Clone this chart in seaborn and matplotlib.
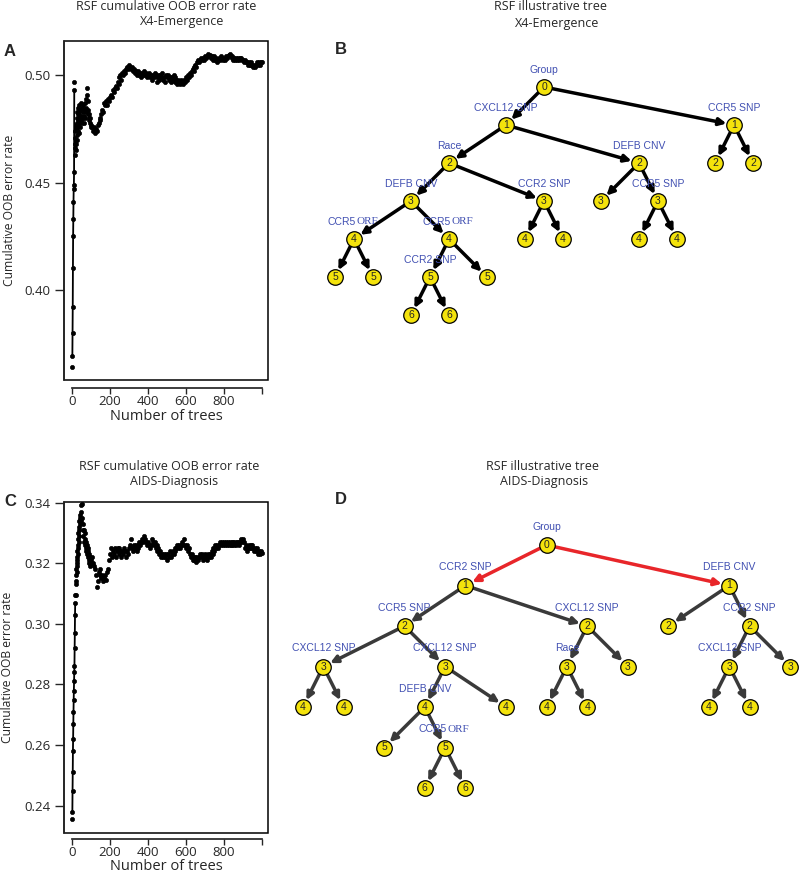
"""
RSF figure: cumulative OOB error rate curves and illustrative trees
for X4-Emergence and AIDS-Diagnosis.
"""

import numpy as np
import pandas as pd
import matplotlib
matplotlib.use("Agg")
import matplotlib.pyplot as plt
from matplotlib.patches import Rectangle
import seaborn as sns

# ── OOB error curves ────────────────────────────────────────
TREES = list(range(1, 41)) + list(range(42, 101, 2)) + list(range(105, 1001, 5))

OOB_X4 = [
    # trees 1-40
    0.364, 0.369, 0.380, 0.392, 0.410, 0.425, 0.433, 0.441, 0.447, 0.449,
    0.455, 0.493, 0.497, 0.463, 0.468, 0.471, 0.466, 0.474, 0.470, 0.477,
    0.468, 0.475, 0.465, 0.478, 0.472, 0.480, 0.470, 0.476, 0.483, 0.474,
    0.479, 0.485, 0.477, 0.482, 0.473, 0.480, 0.486, 0.478, 0.483, 0.481,
    # trees 42-100
    0.476, 0.484, 0.479, 0.487, 0.481, 0.485, 0.478, 0.483, 0.480, 0.486,
    0.481, 0.478, 0.484, 0.480, 0.487, 0.483, 0.489, 0.485, 0.491, 0.494,
    0.488, 0.484, 0.482, 0.480, 0.482, 0.479, 0.478, 0.480, 0.477, 0.476,
    # trees 105-1000
    0.476, 0.474, 0.476, 0.473, 0.475, 0.474, 0.477, 0.478, 0.480, 0.479,
    0.482, 0.484, 0.483, 0.487, 0.486, 0.488, 0.486, 0.489, 0.488, 0.490,
    0.491, 0.490, 0.493, 0.492, 0.494, 0.495, 0.494, 0.497, 0.496, 0.499,
    0.500, 0.498, 0.501, 0.500, 0.502, 0.501, 0.503, 0.504, 0.503, 0.505,
    0.504, 0.503, 0.504, 0.502, 0.503, 0.501, 0.502, 0.500, 0.502, 0.501,
    0.500, 0.501, 0.499, 0.501, 0.500, 0.502, 0.500, 0.501, 0.499, 0.500,
    0.501, 0.499, 0.500, 0.498, 0.500, 0.499, 0.501, 0.500, 0.497, 0.499,
    0.500, 0.498, 0.500, 0.499, 0.501, 0.498, 0.499, 0.497, 0.500, 0.499,
    0.500, 0.498, 0.499, 0.497, 0.499, 0.498, 0.500, 0.499, 0.497, 0.498,
    0.496, 0.498, 0.497, 0.496, 0.498, 0.4965, 0.496, 0.498, 0.497, 0.499,
    0.498, 0.500, 0.499, 0.501, 0.500, 0.502, 0.503, 0.502, 0.504, 0.505,
    0.504, 0.506, 0.507, 0.506, 0.507, 0.508, 0.507, 0.508, 0.507, 0.509,
    0.508, 0.509, 0.510, 0.509, 0.5095, 0.508, 0.509, 0.507, 0.508, 0.509,
    0.507, 0.508, 0.506, 0.507, 0.508, 0.507, 0.509, 0.508, 0.507, 0.508,
    0.507, 0.509, 0.508, 0.509, 0.5095, 0.510, 0.509, 0.508, 0.509, 0.507,
    0.508, 0.507, 0.508, 0.507, 0.508, 0.507, 0.508, 0.508, 0.507, 0.507,
    0.506, 0.507, 0.506, 0.506, 0.505, 0.506, 0.505, 0.506, 0.505, 0.505,
    0.504, 0.505, 0.504, 0.505, 0.506, 0.505, 0.506, 0.505, 0.506, 0.506,
]

OOB_AIDS = [
    # trees 1-40
    0.2355, 0.238, 0.245, 0.251, 0.258, 0.262, 0.267, 0.271, 0.275, 0.278,
    0.281, 0.284, 0.286, 0.292, 0.297, 0.303, 0.307, 0.3095, 0.313, 0.316,
    0.314, 0.318, 0.3095, 0.320, 0.317, 0.322, 0.319, 0.324, 0.321, 0.326,
    0.323, 0.328, 0.325, 0.330, 0.327, 0.332, 0.329, 0.334, 0.331, 0.335,
    # trees 42-100
    0.333, 0.336, 0.3392, 0.334, 0.337, 0.3395, 0.335, 0.331, 0.333, 0.329,
    0.331, 0.327, 0.330, 0.326, 0.328, 0.325, 0.327, 0.324, 0.326, 0.323,
    0.325, 0.322, 0.324, 0.321, 0.323, 0.320, 0.322, 0.319, 0.321, 0.320,
    # trees 105-1000
    0.322, 0.320, 0.319, 0.318, 0.316, 0.312, 0.314, 0.317, 0.316, 0.318,
    0.315, 0.316, 0.314, 0.315, 0.316, 0.3145, 0.317, 0.318, 0.321, 0.323,
    0.325, 0.322, 0.324, 0.323, 0.325, 0.322, 0.324, 0.325, 0.323, 0.325,
    0.324, 0.322, 0.324, 0.323, 0.325, 0.324, 0.322, 0.324, 0.323, 0.325,
    0.326, 0.328, 0.325, 0.324, 0.326, 0.325, 0.326, 0.324, 0.325, 0.326,
    0.327, 0.326, 0.327, 0.328, 0.327, 0.329, 0.328, 0.327, 0.326, 0.327,
    0.326, 0.325, 0.326, 0.328, 0.327, 0.326, 0.327, 0.325, 0.326, 0.324,
    0.325, 0.323, 0.324, 0.322, 0.323, 0.322, 0.323, 0.322, 0.323, 0.321,
    0.323, 0.322, 0.324, 0.322, 0.323, 0.324, 0.323, 0.325, 0.324, 0.325,
    0.326, 0.325, 0.326, 0.325, 0.326, 0.327, 0.326, 0.328, 0.326, 0.325,
    0.326, 0.324, 0.325, 0.323, 0.322, 0.323, 0.321, 0.322, 0.321, 0.322,
    0.3205, 0.322, 0.321, 0.322, 0.323, 0.322, 0.323, 0.321, 0.322, 0.323,
    0.322, 0.321, 0.323, 0.322, 0.323, 0.322, 0.324, 0.323, 0.325, 0.324,
    0.326, 0.325, 0.326, 0.325, 0.326, 0.327, 0.326, 0.327, 0.326, 0.327,
    0.326, 0.327, 0.326, 0.327, 0.326, 0.327, 0.326, 0.327, 0.326, 0.327,
    0.326, 0.327, 0.326, 0.327, 0.327, 0.326, 0.327, 0.328, 0.327, 0.328,
    0.327, 0.325, 0.326, 0.324, 0.325, 0.326, 0.325, 0.326, 0.325, 0.326,
    0.325, 0.324, 0.325, 0.324, 0.325, 0.323, 0.324, 0.323, 0.324, 0.3235,
]

# the first few trees are joined by a line (trees 2..N)
LINE_END_X4 = 12
LINE_END_AIDS = 17

X_TICKS = [0, 200, 400, 600, 800, 1000]
X_TICK_LABELS = ["0", "200", "400", "600", "800", ""]
Y_TICKS_X4 = [0.40, 0.45, 0.50]
Y_TICKS_AIDS = [0.24, 0.26, 0.28, 0.30, 0.32, 0.34]

# ── Illustrative trees (pre-order; parent index, split variable) ──
PARENT_X4 = [-1, 0, 1, 2, 3, 4, 4, 3, 7, 8, 8, 7, 2, 12, 12, 1, 15, 15, 17, 17, 0, 20, 20]
SPLIT_X4 = ["Group", "CXCL12 SNP", "Race", "DEFB CNV", "CCR5 ORF", "", "",
            "CCR5 ORF", "CCR2 SNP", "", "", "", "CCR2 SNP", "", "",
            "DEFB CNV", "", "CCR5 SNP", "", "", "CCR5 SNP", "", ""]
RED_X4 = []

PARENT_AIDS = [-1, 0, 1, 2, 3, 3, 2, 6, 7, 7, 9, 9, 6, 1, 13, 14, 14, 13,
               0, 18, 18, 20, 21, 21, 20]
SPLIT_AIDS = ["Group", "CCR2 SNP", "CCR5 SNP", "CXCL12 SNP", "", "",
              "CXCL12 SNP", "DEFB CNV", "", "CCR5 ORF", "", "", "",
              "CXCL12 SNP", "Race", "", "", "", "DEFB CNV", "", "CCR2 SNP",
              "CXCL12 SNP", "", "", ""]
RED_AIDS = [1, 18]

W, H = 800, 876
YELLOW = "#f4e30c"
BLUE = "#4150b2"
RED = "#e8262a"
UI_FONT = ["Open Sans", "DejaVu Sans"]
NODE_FONT = ["Liberation Sans", "DejaVu Sans"]
SERIF_FONT = ["Liberation Serif", "DejaVu Serif"]

sns.set_theme(style="ticks")
plt.rcParams["font.family"] = UI_FONT


def px_box(left, top, right, bottom):
    return [left / W, 1 - bottom / H, (right - left) / W, (bottom - top) / H]


def fig_text(fig, x, y, s, **kw):
    fig.text(x / W, 1 - y / H, s, ha="center", va="center", **kw)


def oob_panel(ax, oob, line_end, ylim, yticks, offset):
    df = pd.DataFrame({"trees": TREES, "oob": oob})
    early = df[(df.trees >= 2) & (df.trees <= line_end)]
    sns.lineplot(data=early, x="trees", y="oob", color="black", lw=1.3,
                 estimator=None, sort=False, ax=ax)
    sns.scatterplot(data=df, x="trees", y="oob", color="black", s=9,
                    edgecolor="black", linewidth=0.5, ax=ax)
    ax.set_xlim(-42, 1032)
    ax.set_ylim(*ylim)
    ax.set_xticks(X_TICKS, X_TICK_LABELS)
    ax.set_yticks(yticks, [f"{t:.2f}" for t in yticks])
    ax.tick_params(axis="x", length=4, width=1, pad=1, labelsize=9.5)
    ax.tick_params(axis="y", length=6.5, width=1, pad=3, labelsize=9.5)
    for side in ["top", "right"]:
        ax.spines[side].set_visible(False)
    ax.spines["bottom"].set_position(("outward", offset))
    ax.spines["bottom"].set_bounds(0, 1000)
    ax.spines["left"].set_linewidth(1.1)
    ax.add_patch(Rectangle((0, 0), 1, 1, transform=ax.transAxes, fill=False,
                           lw=1.1, ec="black", clip_on=False))
    ax.set_xlabel("Number of trees", fontsize=10.5, labelpad=0.5)
    ax.set_ylabel("Cumulative OOB error rate", fontsize=8.7)


def layout(parents):
    n = len(parents)
    children = [[] for _ in range(n)]
    depth = [0] * n
    for i, p in enumerate(parents):
        if p >= 0:
            children[p].append(i)
            depth[i] = depth[p] + 1

    def leaves(i):
        if not children[i]:
            return [i]
        return sum((leaves(c) for c in children[i]), [])

    xs = [0.0] * n
    k = 0
    for i in range(n):
        if not children[i]:
            xs[i] = 2.0 * k
            k += 1
    for i in range(n):
        if children[i]:
            xs[i] = float(np.mean([xs[j] for j in leaves(i)]))
    return xs, depth


def tree_panel(ax, parents, splits, red, edge_color, xlim, ylim):
    xs, depth = layout(parents)
    nodes = pd.DataFrame({"x": xs, "depth": depth, "split": splits})
    for i, p in enumerate(parents):
        if p < 0:
            continue
        col = RED if i in red else edge_color
        ax.annotate("", xy=(xs[i], depth[i]), xytext=(xs[p], depth[p]),
                    zorder=2,
                    arrowprops=dict(arrowstyle="-|>,head_length=0.6,head_width=0.3",
                                    color=col, lw=2.5, shrinkA=5.5, shrinkB=5.5,
                                    mutation_scale=7))
    sns.scatterplot(data=nodes, x="x", y="depth", s=125, color=YELLOW,
                    edgecolor="black", linewidth=0.9, ax=ax, zorder=3,
                    legend=False)
    for r in nodes.itertuples():
        ax.text(r.x, r.depth, str(r.depth), ha="center", va="center",
                fontsize=7.5, family=NODE_FONT, zorder=4)
        if not r.split:
            continue
        ly = r.depth - 0.48
        if r.split.endswith(" ORF"):
            ax.annotate(r.split[:-4], (r.x, ly), xytext=(1, 0),
                        textcoords="offset points", ha="right",
                        va="center_baseline", fontsize=7.5, color=BLUE,
                        family=NODE_FONT)
            ax.annotate("ORF", (r.x, ly), xytext=(2, 0),
                        textcoords="offset points", ha="left",
                        va="center_baseline", fontsize=8, color=BLUE,
                        family=SERIF_FONT)
        else:
            ax.text(r.x, ly, r.split, ha="center", va="center_baseline",
                    fontsize=7.5, color=BLUE, family=NODE_FONT)
    ax.set_xlim(*xlim)
    ax.set_ylim(*ylim)
    ax.axis("off")


fig = plt.figure(figsize=(8, 8.76), dpi=100)

ax_a = fig.add_axes(px_box(64, 41, 268, 380))
oob_panel(ax_a, OOB_X4, LINE_END_X4, (0.358, 0.516), Y_TICKS_X4, 6)
ax_a.yaxis.set_label_coords(-48 / 204, 0.5)

ax_c = fig.add_axes(px_box(64, 502, 268, 833))
oob_panel(ax_c, OOB_AIDS, LINE_END_AIDS, (0.2310, 0.3402), Y_TICKS_AIDS, 4)
ax_c.yaxis.set_label_coords(-50 / 204, 0.5)

ax_b = fig.add_axes(px_box(300, 40, 800, 340))
tree_panel(ax_b, PARENT_X4, SPLIT_X4, RED_X4, "black",
           ((300 - 335) / 19, (800 - 335) / 19), ((340 - 87) / 38, (40 - 87) / 38))

ax_d = fig.add_axes(px_box(285, 500, 800, 830))
tree_panel(ax_d, PARENT_AIDS, SPLIT_AIDS, RED_AIDS, "#3a3a3a",
           ((285 - 303) / 20.3, (800 - 303) / 20.3), ((830 - 545) / 40.5, (500 - 545) / 40.5))

# titles and panel letters
fig_text(fig, 166, 7, "RSF cumulative OOB error rate", fontsize=9)
fig_text(fig, 182, 22, "X4-Emergence", fontsize=9)
fig_text(fig, 169, 466, "RSF cumulative OOB error rate", fontsize=9)
fig_text(fig, 174, 481, "AIDS-Diagnosis", fontsize=9)
fig_text(fig, 550, 6, "RSF illustrative tree", fontsize=9)
fig_text(fig, 557, 23, "X4-Emergence", fontsize=9)
fig_text(fig, 542, 466, "RSF illustrative tree", fontsize=9)
fig_text(fig, 544, 481, "AIDS-Diagnosis", fontsize=9)

for x, y, s in [(10, 52, "A"), (341, 50, "B"), (10, 502, "C"), (341, 499, "D")]:
    fig_text(fig, x, y, s, fontsize=12, fontweight="bold", family=NODE_FONT)

fig.savefig("out.png", dpi=100)
